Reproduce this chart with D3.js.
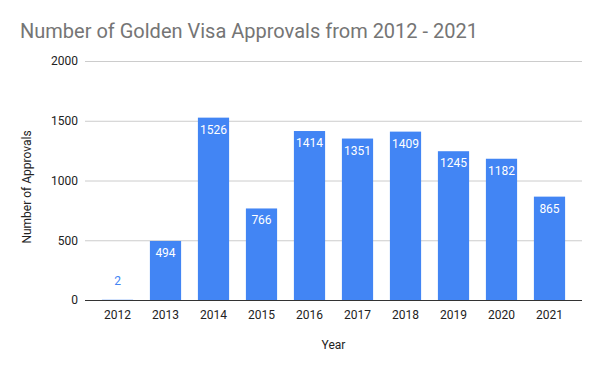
<!DOCTYPE html>
<html>
<head>
<meta charset="utf-8">
<script src="https://cdn.jsdelivr.net/npm/d3@7"></script>
<style>
  body { margin: 0; background: #fff; }
  text { font-family: Roboto, Arial, sans-serif; }
</style>
</head>
<body>
<div class="chart"></div>
<script>
// Data
const years = ['2012', '2013', '2014', '2015', '2016', '2017', '2018', '2019', '2020', '2021'];
const approvals = [2, 494, 1526, 766, 1414, 1351, 1409, 1245, 1182, 865];
const yTicks = [0, 500, 1000, 1500, 2000];

const width = 600;
const height = 371;
const plotLeft = 85, plotRight = 582, plotTop = 61, plotBottom = 300;

const svg = d3.select('.chart')
  .append('svg')
  .attr('width', width)
  .attr('height', height);

const xScale = d3.scaleBand()
  .domain(years)
  .range([93.5, 573.5])
  .paddingInner(0.35)
  .paddingOuter(0.175);

const yScale = d3.scaleLinear()
  .domain([0, 2000])
  .range([plotBottom, plotTop]);

// title
svg.append('text')
  .attr('x', 20)
  .attr('y', 38)
  .attr('font-size', 20)
  .attr('fill', '#757575')
  .text('Number of Golden Visa Approvals from 2012 - 2021');

// gridlines + y tick labels
const yAxis = svg.append('g')
  .attr('transform', `translate(${plotLeft}, 0)`)
  .call(d3.axisLeft(yScale)
    .tickValues(yTicks)
    .tickFormat(d3.format('d'))
    .tickSize(-(plotRight - plotLeft))
    .tickPadding(7));
yAxis.select('.domain').remove();
yAxis.selectAll('.tick line').attr('stroke', '#cccccc');
yAxis.selectAll('.tick text')
  .attr('font-size', 12)
  .attr('fill', '#222')
  .attr('font-family', 'Roboto, Arial, sans-serif');

// bars
svg.selectAll('.bar')
  .data(years)
  .enter()
  .append('rect')
  .attr('class', 'bar')
  .attr('x', (d) => xScale(d))
  .attr('y', (d, i) => yScale(approvals[i]))
  .attr('width', xScale.bandwidth())
  .attr('height', (d, i) => plotBottom - yScale(approvals[i]))
  .attr('fill', '#4285f4');

// data labels: inside the bar, above it when the bar is too short
svg.selectAll('.label')
  .data(years)
  .enter()
  .append('text')
  .attr('class', 'label')
  .attr('x', (d) => xScale(d) + xScale.bandwidth() / 2)
  .attr('y', (d, i) => {
    const top = yScale(approvals[i]);
    return plotBottom - top < 24 ? top - 15 : top + 16;
  })
  .attr('text-anchor', 'middle')
  .attr('font-size', 12)
  .attr('fill', (d, i) => (plotBottom - yScale(approvals[i]) < 24 ? '#4285f4' : '#fff'))
  .text((d, i) => approvals[i]);

// x axis
const xAxis = svg.append('g')
  .attr('transform', `translate(0, ${plotBottom})`)
  .call(d3.axisBottom(xScale).tickSize(0).tickPadding(10));
xAxis.select('.domain').remove();
xAxis.selectAll('.tick text')
  .attr('font-size', 12)
  .attr('fill', '#222')
  .attr('font-family', 'Roboto, Arial, sans-serif');

svg.append('line')
  .attr('x1', plotLeft)
  .attr('x2', plotRight)
  .attr('y1', plotBottom + 0.5)
  .attr('y2', plotBottom + 0.5)
  .attr('stroke', '#333');

// axis titles
svg.append('text')
  .attr('x', (plotLeft + plotRight) / 2)
  .attr('y', 349)
  .attr('text-anchor', 'middle')
  .attr('font-size', 12)
  .attr('fill', '#222')
  .text('Year');

svg.append('text')
  .attr('transform', 'translate(31, 187) rotate(-90)')
  .attr('text-anchor', 'middle')
  .attr('font-size', 12)
  .attr('fill', '#222')
  .text('Number of Approvals');
</script>
</body>
</html>
